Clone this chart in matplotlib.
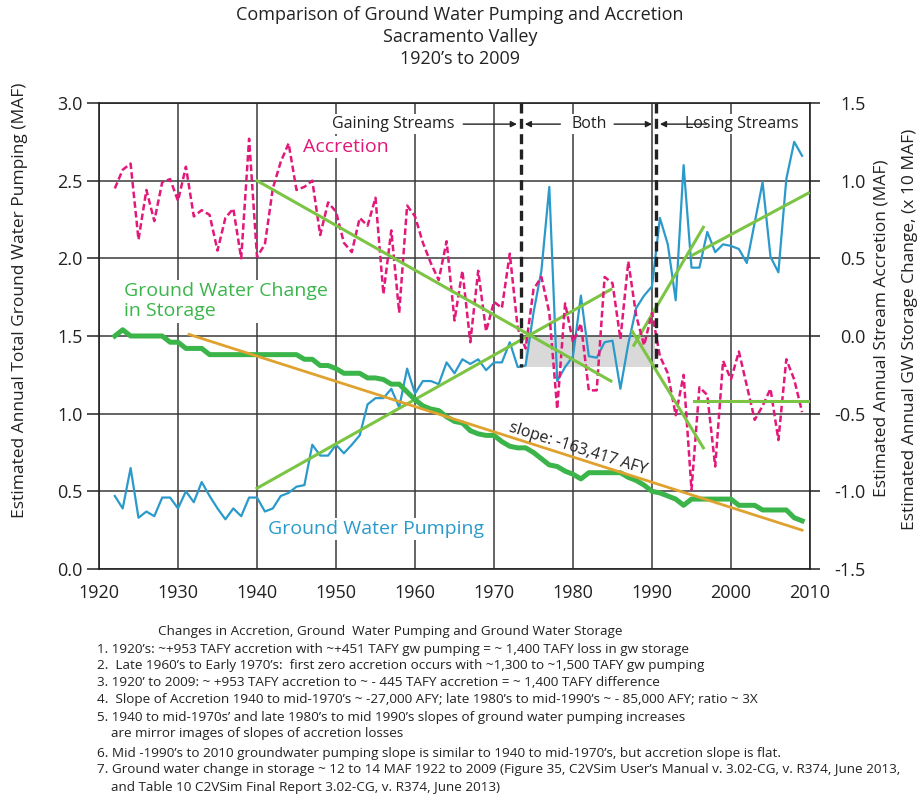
import numpy as np
import matplotlib
matplotlib.use('Agg')
import matplotlib.pyplot as plt
from matplotlib.patches import Rectangle

plt.rcParams['font.family'] = ['Open Sans', 'DejaVu Sans']
plt.rcParams['axes.unicode_minus'] = False

# ---- data --------------------------------------------------------------
years = np.arange(1922, 2010)

# total ground water pumping, MAF (left axis)
pumping = [0.47, 0.39, 0.65, 0.33, 0.37, 0.34, 0.46, 0.46, 0.39,
           0.50, 0.43, 0.56, 0.47, 0.39, 0.32, 0.39, 0.34, 0.46, 0.46,
           0.37, 0.39, 0.47, 0.49, 0.53, 0.54, 0.80, 0.73, 0.73, 0.80,
           0.745, 0.80, 0.86, 1.06, 1.10, 1.10, 1.16, 1.04, 1.29, 1.13,
           1.21, 1.21, 1.19, 1.33, 1.26, 1.35, 1.32, 1.35, 1.28, 1.33,
           1.33, 1.46, 1.30, 1.31, 1.65, 1.92, 2.46, 1.21, 1.30, 1.37,
           1.76, 1.37, 1.36, 1.46, 1.47, 1.16, 1.45, 1.68, 1.76, 1.82,
           2.26, 2.09, 1.73, 2.60, 1.94, 1.94, 2.17, 2.04, 2.09, 2.08,
           2.06, 1.97, 2.23, 2.49, 2.01, 1.91, 2.51, 2.75, 2.66]

# stream accretion, MAF (right axis)
accretion = [0.95, 1.07, 1.11, 0.62, 0.94, 0.74, 0.99, 1.01, 0.87,
             1.09, 0.77, 0.81, 0.78, 0.55, 0.76, 0.82, 0.50, 1.27, 0.51,
             0.59, 0.95, 1.12, 1.24, 0.94, 0.96, 1.00, 0.65, 0.86, 0.80,
             0.60, 0.54, 0.76, 0.71, 0.89, 0.27, 0.68, 0.15, 0.84, 0.77,
             0.60, 0.47, 0.36, 0.61, 0.10, 0.42, -0.04, 0.42, 0.03, 0.22,
             0.18, 0.53, 0.05, -0.08, 0.30, 0.38, 0.15, -0.47, 0.21, -0.04,
             0.08, -0.35, -0.35, 0.38, 0.34, -0.02, 0.48, 0.13, -0.06, 0.15,
             -0.13, -0.24, -0.51, -0.25, -0.99, -0.33, -0.38, -0.84, -0.16, -0.28,
             -0.10, -0.32, -0.54, -0.45, -0.34, -0.67, -0.15, -0.28, -0.49]

# cumulative ground water change in storage, x 10 MAF (right axis)
storage = [0.00, 0.04, 0.00, 0.00, 0.00, 0.00, 0.00, -0.04, -0.04,
           -0.08, -0.08, -0.08, -0.12, -0.12, -0.12, -0.12, -0.12, -0.12, -0.12,
           -0.12, -0.12, -0.12, -0.12, -0.12, -0.15, -0.15, -0.19, -0.19, -0.21,
           -0.24, -0.24, -0.24, -0.27, -0.27, -0.28, -0.31, -0.31, -0.36, -0.41,
           -0.45, -0.47, -0.48, -0.52, -0.55, -0.56, -0.61, -0.63, -0.64, -0.64,
           -0.68, -0.71, -0.72, -0.72, -0.75, -0.79, -0.83, -0.84, -0.87, -0.89,
           -0.92, -0.88, -0.88, -0.88, -0.88, -0.88, -0.91, -0.93, -0.96, -1.00,
           -1.01, -1.03, -1.05, -1.09, -1.05, -1.05, -1.05, -1.05, -1.05, -1.05,
           -1.09, -1.09, -1.09, -1.12, -1.12, -1.12, -1.12, -1.17, -1.19]

# hand drawn trend segments: (x0, x1, y0, y1)
pump_trends = [(1940, 1984.8, 0.52, 1.80),
               (1987.7, 1996.5, 1.44, 2.20),
               (1995.1, 2009.8, 2.02, 2.42)]
accr_trends = [(1940, 1984.8, 1.00, -0.29),
               (1987.5, 1996.5, 0.03, -0.72),
               (1995.3, 2009.8, -0.42, -0.42)]
storage_trend = (1931.4, 2009.0, 0.01, -1.25)

period_breaks = [1973.4, 1990.5]
zero_band = (1973.9, 1990.4, 1.30, 1.50)

notes_title = "Changes in Accretion, Ground  Water Pumping and Ground Water Storage"
notes = [
    "1. 1920\u2019s: ~+953 TAFY accretion with ~+451 TAFY gw pumping = ~ 1,400 TAFY loss in gw storage",
    "2.  Late 1960\u2019s to Early 1970\u2019s:  first zero accretion occurs with ~1,300 to ~1,500 TAFY gw pumping",
    "3. 1920\u2019 to 2009: ~ +953 TAFY accretion to ~ - 445 TAFY accretion = ~ 1,400 TAFY difference",
    "4.  Slope of Accretion 1940 to mid-1970\u2019s ~ -27,000 AFY; late 1980\u2019s to mid-1990\u2019s ~ - 85,000 AFY; ratio ~ 3X",
    "5. 1940 to mid-1970s\u2019 and late 1980\u2019s to mid 1990\u2019s slopes of ground water pumping increases",
    "    are mirror images of slopes of accretion losses",
    "6. Mid -1990\u2019s to 2010 groundwater pumping slope is similar to 1940 to mid-1970\u2019s, but accretion slope is flat.",
    "7. Ground water change in storage ~ 12 to 14 MAF 1922 to 2009 (Figure 35, C2VSim User\u2019s Manual v. 3.02-CG, v. R374, June 2013,",
    "    and Table 10 C2VSim Final Report 3.02-CG, v. R374, June 2013)",
]
notes_y = [649, 666, 683, 700, 717, 734, 753, 770, 787]

BLUE = '#2b9acb'
PINK = '#e2187a'
GREEN = '#3bb54a'
LGREEN = '#7cc443'
ORANGE = '#e0a22e'

fig = plt.figure(figsize=(9.24, 7.96), dpi=100)
ax = fig.add_axes([99/924, 1-569/796, 711/924, 466/796])
ax.set_xlim(1920, 2010)
ax.set_ylim(0, 3)
ax.set_xticks(np.arange(1920, 2011, 10))
ax.set_yticks(np.arange(0, 3.01, 0.5))
ax.set_yticklabels(['%.1f' % v for v in np.arange(0, 3.01, 0.5)])
ax.grid(True, color='#3a3a3a', lw=1.1)
ax.set_axisbelow(True)
ax.tick_params(axis='x', length=0, pad=11, labelsize=13, colors='#222222')
ax.tick_params(axis='y', direction='out', length=9, width=1.1, pad=3,
               labelsize=13, colors='#222222')
for s in ax.spines.values():
    s.set_color('#222222')
    s.set_linewidth(1.2)

x0, x1, y0, y1 = zero_band
ax.add_patch(Rectangle((x0, y0), x1 - x0, y1 - y0, facecolor='#d9d9d9',
                       edgecolor='none', zorder=0.3))

ax.plot(years, pumping, color=BLUE, lw=1.6, zorder=3)
for a, b, c, d in pump_trends:
    ax.plot([a, b], [c, d], color=LGREEN, lw=2.2, zorder=4)

ax2 = ax.twinx()
ax2.set_ylim(-1.5, 1.5)
rticks = np.arange(-1.5, 1.51, 0.5)
ax2.set_yticks(rticks)
ax2.set_yticklabels(['%.1f' % (v + 0.0) for v in rticks], ha='right')
ax2.tick_params(axis='y', direction='out', length=7, width=1.1, pad=33,
                labelsize=13, colors='#222222')
for s in ax2.spines.values():
    s.set_visible(False)

ax2.plot(years, accretion, color=PINK, lw=1.8, dashes=(2.6, 1.3), zorder=3)
ax2.plot(years, storage, color=GREEN, lw=3.6, zorder=3)
for a, b, c, d in accr_trends:
    ax2.plot([a, b], [c, d], color=LGREEN, lw=2.2, zorder=4)
a, b, c, d = storage_trend
ax2.plot([a, b], [c, d], color=ORANGE, lw=2.0, zorder=4)

for xb in period_breaks:
    ax2.plot([xb, xb], [1.5, -0.2], color='#222222', lw=2.4,
             dashes=(3.0, 1.6), zorder=5)

box = dict(facecolor='white', edgecolor='none', pad=1.5)
ya = 1.364
ax2.text(1957.2, ya, 'Gaining Streams', ha='center', va='center',
         fontsize=11.5, color='#222222', bbox=box, zorder=6)
ax2.text(1982.1, ya, 'Both', ha='center', va='center',
         fontsize=11.5, color='#222222', bbox=box, zorder=6)
ax2.text(2001.4, ya, 'Losing Streams', ha='center', va='center',
         fontsize=11.5, color='#222222', bbox=box, zorder=6)
arrow = dict(arrowstyle='-|>', color='#222222', lw=1.0, mutation_scale=9,
             shrinkA=0, shrinkB=0)
for start, end in [(1966.1, 1972.9), (1978.4, 1973.9), (1985.2, 1990.0),
                   (1996.9, 1991.0)]:
    ax2.annotate('', xy=(end, ya), xytext=(start, ya), arrowprops=arrow,
                 zorder=6)

ax2.text(1945.8, 1.216, 'Accretion', ha='left', va='center', fontsize=14,
         color=PINK, bbox=box, zorder=6)
ax2.text(1923.2, 0.225, 'Ground Water Change\nin Storage', ha='left',
         va='center', fontsize=14, color=GREEN, linespacing=1.2,
         bbox=box, zorder=6)
ax2.text(1941.4, -1.243, 'Ground Water Pumping', ha='left', va='center',
         fontsize=14, color=BLUE, bbox=box, zorder=6)
ax2.text(1980.6, -0.728, 'slope: -163,417 AFY', ha='center', va='center',
         fontsize=11.5, color='#222222', rotation=-17.5, zorder=6)

fig.text(460/924, 1 - 6/796,
         'Comparison of Ground Water Pumping and Accretion\nSacramento Valley\n1920\u2019s to 2009',
         ha='center', va='top', fontsize=13, linespacing=1.3, color='#222222')

fig.text(20/924, 1 - 300/796, 'Estimated Annual Total Ground Water Pumping (MAF)',
         rotation=90, ha='center', va='center', fontsize=12.5, color='#222222')
fig.text(882/924, 1 - 328/796, 'Estimated Annual Stream Accretion (MAF)',
         rotation=90, ha='center', va='center', fontsize=12.5, color='#222222')
fig.text(910/924, 1 - 329/796, 'Estimated Annual GW Storage Change, (x 10 MAF)',
         rotation=90, ha='center', va='center', fontsize=12.5, color='#222222')

fig.text(158/924, 1 - 632/796, notes_title, ha='left', va='center',
         fontsize=9.7, color='#222222')
for line, yy in zip(notes, notes_y):
    fig.text(97/924, 1 - yy/796, line, ha='left', va='center',
             fontsize=9.7, color='#222222')

fig.savefig('out.png', dpi=100)
